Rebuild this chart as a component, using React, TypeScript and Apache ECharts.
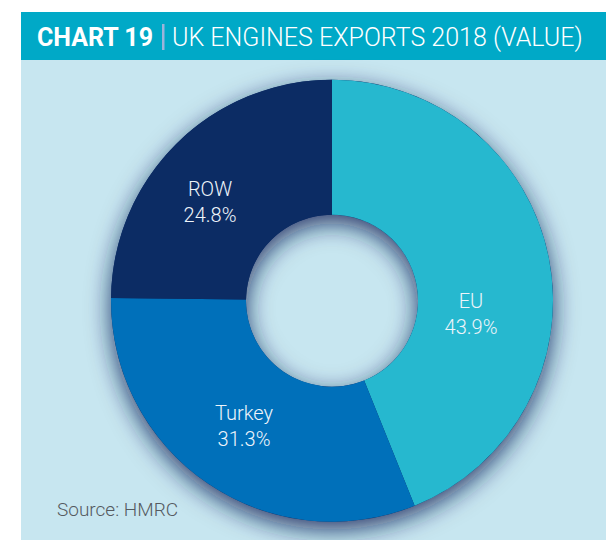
import React, { useEffect, useRef } from "react";
import * as echarts from "echarts";

const categories = ["EU", "Turkey", "ROW"];
const values = [43.9, 31.3, 24.8];
const colors = ["#26B8CF", "#0070BA", "#0C2C64"];
const titleBold = "CHART 19";
const titleLight = "UK ENGINES EXPORTS 2018 (VALUE)";
const sourceText = "Source: HMRC";
const labelPos: [number, number][] = [
  [471, 314],
  [244, 426],
  [210, 202],
];

export default function App() {
  const ref = useRef<HTMLDivElement>(null);
  useEffect(() => {
    document.body.style.margin = "0";
    const chart = echarts.init(ref.current!, undefined, { renderer: "svg" });
    const center = [332, 300.7];
    chart.setOption({
      animation: false,
      backgroundColor: "#ffffff",
      graphic: [
        { type: "rect", z: -10, shape: { x: 21, y: 60, width: 585, height: 480 }, style: { fill: "#C7E6F0" }, silent: true },
        { type: "rect", z: -10, shape: { x: 21, y: 12, width: 585, height: 48 }, style: { fill: "#00A9C7" }, silent: true },
        {
          type: "text", x: 37, y: 37,
          style: { text: titleBold, fill: "#ffffff", font: "bold 25px Roboto", textVerticalAlign: "middle", textAlign: "left" },
        },
        { type: "rect", shape: { x: 162, y: 24, width: 2.5, height: 26 }, style: { fill: "#9DB3DA" } },
        {
          type: "text", x: 172, y: 37,
          style: { text: titleLight, fill: "#ffffff", font: "300 25px Roboto", textVerticalAlign: "middle", textAlign: "left" },
        },
        {
          type: "text", x: 57, y: 509,
          style: { text: sourceText, fill: "#555a60", font: "300 19px Roboto", textVerticalAlign: "middle", textAlign: "left" },
        },
      ],
      series: [
        {
          type: "pie",
          silent: true,
          center,
          radius: [86, 221],
          startAngle: 90,
          label: { show: false },
          labelLine: { show: false },
          data: [{ value: 1, name: "shadow" }],
          itemStyle: {
            color: "#0C2C64",
            shadowBlur: 24,
            shadowOffsetY: 8,
            shadowColor: "rgba(15,35,85,0.85)",
          },
          z: 1,
        },
        {
          type: "pie",
          center,
          radius: [86, 221],
          startAngle: 90,
          clockwise: true,
          z: 2,
          itemStyle: { borderWidth: 0 },
          labelLine: { show: false },
          label: {
            show: true,
            position: "inside",
            formatter: (p: any) => `${p.name}\n${p.value.toFixed(1)}%`,
            color: "#EEF4FA",
            fontFamily: "Roboto",
            fontWeight: 300,
            fontSize: 20,
            lineHeight: 26,
            align: "center",
          },
          labelLayout: (p: any) => ({
            x: labelPos[p.dataIndex][0],
            y: labelPos[p.dataIndex][1],
            align: "center",
            verticalAlign: "middle",
          }),
          data: categories.map((c, i) => ({ name: c, value: values[i], itemStyle: { color: colors[i] } })),
        },
      ],
    });
    return () => chart.dispose();
  }, []);
  return <div ref={ref} style={{ width: 606, height: 540 }} />;
}
